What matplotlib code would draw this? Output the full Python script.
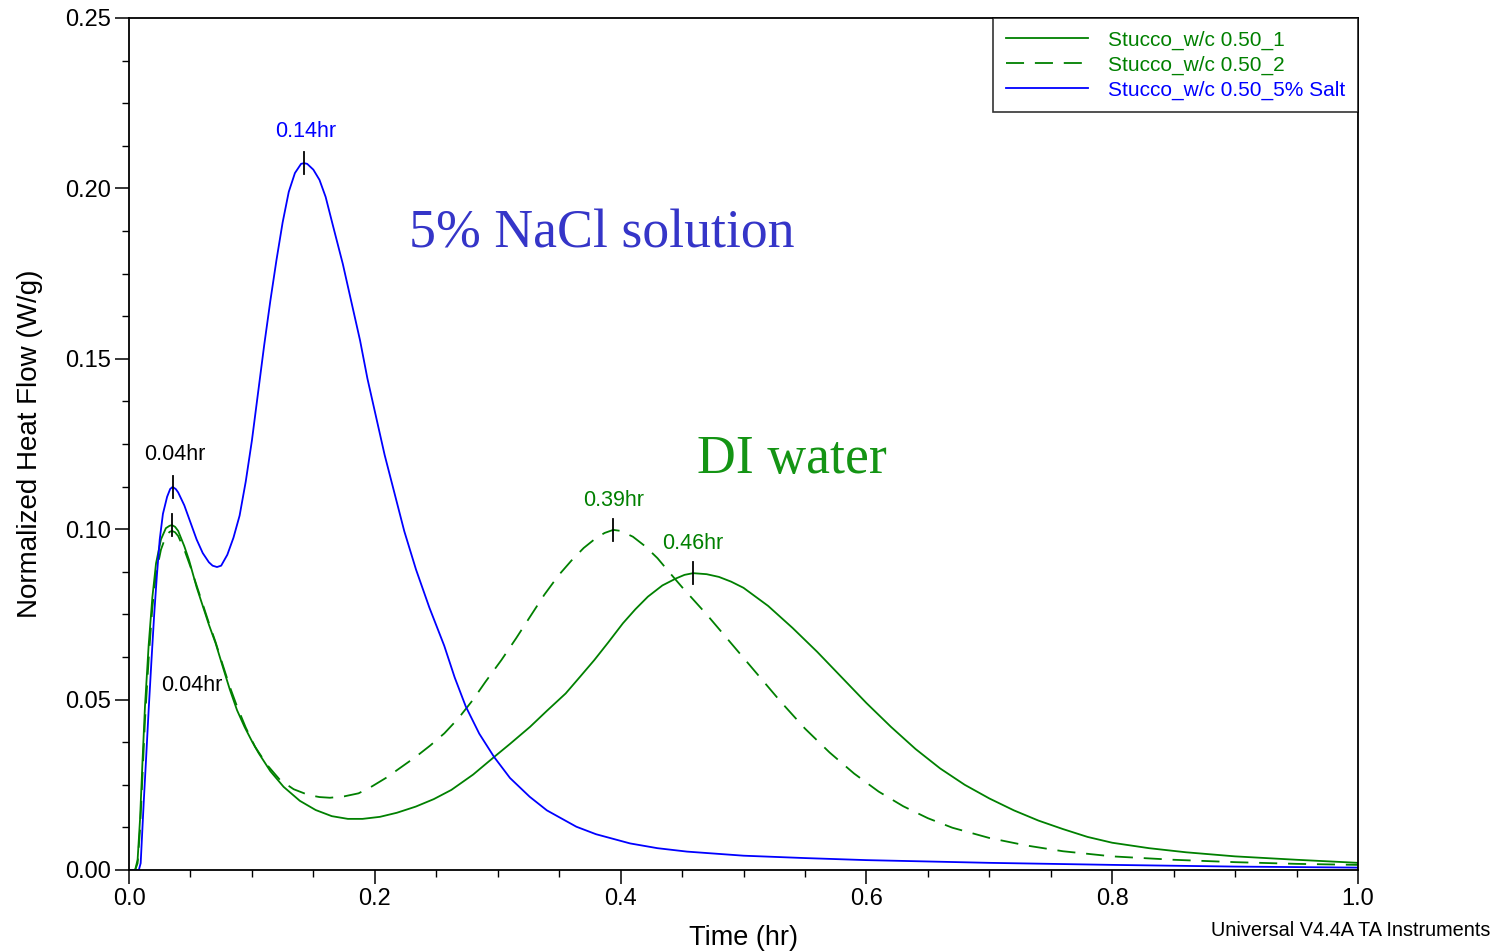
import numpy as np
import matplotlib
matplotlib.use("Agg")
import matplotlib.pyplot as plt
from matplotlib.ticker import MultipleLocator

plt.rcParams['font.family'] = ['Liberation Sans', 'DejaVu Sans']

# ---- data ----
t_s1 = [0.0, 0.005, 0.007, 0.009, 0.011, 0.013, 0.016, 0.019, 0.022, 0.026, 0.030, 0.033,
        0.035, 0.0375, 0.040, 0.045, 0.0488, 0.055, 0.060, 0.065, 0.0705, 0.076, 0.082,
        0.0879, 0.094, 0.100, 0.1055, 0.115, 0.1258, 0.139, 0.1519, 0.165, 0.1781, 0.190,
        0.2042, 0.218, 0.2333, 0.248, 0.2623, 0.280, 0.2972, 0.310, 0.3263, 0.340, 0.3553,
        0.367, 0.3786, 0.390, 0.4019, 0.412, 0.4222, 0.434, 0.4454, 0.452, 0.459, 0.470,
        0.480, 0.490, 0.500, 0.520, 0.540, 0.560, 0.580, 0.600, 0.620, 0.640, 0.660, 0.680,
        0.700, 0.720, 0.740, 0.760, 0.780, 0.800, 0.830, 0.860, 0.900, 0.950, 1.000]
hf_s1 = [0.0, 0.0, 0.003, 0.015, 0.032, 0.048, 0.066, 0.080, 0.090, 0.097, 0.1003, 0.1010,
         0.1012, 0.1007, 0.0995, 0.0950, 0.0910, 0.0830, 0.0775, 0.0720, 0.0665, 0.0600, 0.0530,
         0.0469, 0.0420, 0.0378, 0.0343, 0.0290, 0.0244, 0.0203, 0.0176, 0.0158, 0.0150, 0.0150,
         0.0156, 0.0168, 0.0186, 0.0208, 0.0235, 0.0280, 0.0332, 0.0370, 0.0420, 0.0467, 0.0518,
         0.0567, 0.0616, 0.0668, 0.0724, 0.0765, 0.0802, 0.0835, 0.0856, 0.0866, 0.0871, 0.0868,
         0.0860, 0.0846, 0.0828, 0.0775, 0.0710, 0.0640, 0.0565, 0.0490, 0.0420, 0.0355, 0.0298,
         0.0250, 0.0210, 0.0175, 0.0145, 0.0120, 0.0097, 0.0080, 0.0064, 0.0052, 0.0040, 0.0030,
         0.0021]

t_s2 = [0.0, 0.005, 0.007, 0.009, 0.011, 0.013, 0.016, 0.019, 0.022, 0.026, 0.030, 0.033,
        0.035, 0.0375, 0.040, 0.045, 0.050, 0.055, 0.060, 0.065, 0.0705, 0.076, 0.082, 0.0879,
        0.095, 0.1025, 0.112, 0.1229, 0.134, 0.1461, 0.155, 0.1635, 0.175, 0.1868, 0.198,
        0.2099, 0.220, 0.2333, 0.245, 0.2566, 0.268, 0.2798, 0.290, 0.303, 0.315, 0.3263, 0.338,
        0.3496, 0.360, 0.370, 0.380, 0.387, 0.394, 0.400, 0.410, 0.420, 0.430, 0.440, 0.450,
        0.470, 0.490, 0.510, 0.530, 0.550, 0.570, 0.590, 0.610, 0.630, 0.650, 0.670, 0.700,
        0.730, 0.760, 0.800, 0.850, 0.900, 0.950, 1.000]
hf_s2 = [0.0, 0.0, 0.002, 0.012, 0.028, 0.044, 0.062, 0.077, 0.087, 0.094, 0.0980, 0.0992,
         0.0995, 0.0991, 0.0980, 0.0940, 0.0890, 0.0835, 0.0780, 0.0725, 0.0668, 0.0605, 0.0538,
         0.0480, 0.0418, 0.0362, 0.0310, 0.0264, 0.0237, 0.0220, 0.0214, 0.0212, 0.0216, 0.0225,
         0.0246, 0.0272, 0.0298, 0.0332, 0.0365, 0.0401, 0.0445, 0.0499, 0.0552, 0.0616, 0.0680,
         0.0743, 0.0808, 0.0865, 0.0908, 0.0945, 0.0974, 0.0989, 0.0998, 0.0995, 0.0978, 0.0950,
         0.0915, 0.0872, 0.0830, 0.0750, 0.0665, 0.0580, 0.0495, 0.0415, 0.0345, 0.0283, 0.0230,
         0.0187, 0.0152, 0.0124, 0.0094, 0.0072, 0.0055, 0.0040, 0.0030, 0.0023, 0.0018, 0.0015]

t_salt = [0.0, 0.008, 0.0095, 0.012, 0.0138, 0.016, 0.0182, 0.0205, 0.0226, 0.025, 0.0276,
          0.031, 0.0335, 0.0355, 0.038, 0.040, 0.045, 0.050, 0.055, 0.060, 0.065, 0.068, 0.0716,
          0.075, 0.080, 0.085, 0.090, 0.095, 0.100, 0.105, 0.110, 0.115, 0.120, 0.125, 0.130,
          0.135, 0.140, 0.1424, 0.145, 0.150, 0.155, 0.160, 0.166, 0.174, 0.181, 0.188, 0.194,
          0.201, 0.208, 0.216, 0.224, 0.2335, 0.2444, 0.2565, 0.265, 0.274, 0.285, 0.297, 0.310,
          0.326, 0.340, 0.364, 0.380, 0.4077, 0.430, 0.454, 0.500, 0.550, 0.600, 0.700, 0.800,
          0.900, 1.000]
hf_salt = [0.0, 0.0, 0.002, 0.020, 0.032, 0.047, 0.061, 0.075, 0.086, 0.097, 0.1045,
           0.1095, 0.1118, 0.1124, 0.1118, 0.1108, 0.1070, 0.1020, 0.0970, 0.0930, 0.0903, 0.0893,
           0.0889, 0.0893, 0.0925, 0.0975, 0.1040, 0.1140, 0.1260, 0.1400, 0.1540, 0.1670, 0.1790,
           0.1900, 0.1990, 0.2045, 0.2072, 0.2074, 0.2072, 0.2055, 0.2025, 0.1975, 0.1890, 0.1778,
           0.1666, 0.1554, 0.1442, 0.1330, 0.1218, 0.1106, 0.0994, 0.0882, 0.0770, 0.0658, 0.0565,
           0.0480, 0.0400, 0.0332, 0.0270, 0.0215, 0.0175, 0.0127, 0.0105, 0.0078, 0.0064, 0.0054,
           0.0042, 0.0035, 0.0029, 0.0021, 0.0015, 0.0010, 0.0007]

series_labels = ['Stucco_w/c 0.50_1', 'Stucco_w/c 0.50_2', 'Stucco_w/c 0.50_5% Salt']
peak_labels = ['0.04hr', '0.04hr', '0.14hr', '0.39hr', '0.46hr']

GREEN = '#008000'
BLUE = '#0000ff'

fig = plt.figure(figsize=(14.95, 9.51), dpi=100)
ax = fig.add_axes([129/1495, 81/951, (1358-129)/1495, (870-18)/951])

ax.plot(t_s1, hf_s1, color=GREEN, lw=1.3, label=series_labels[0])
ax.plot(t_s2, hf_s2, color=GREEN, lw=1.3, ls=(0, (10, 6)), label=series_labels[1])
ax.plot(t_salt, hf_salt, color=BLUE, lw=1.3, label=series_labels[2])

ax.set_xlim(0, 1.0)
ax.set_ylim(0, 0.25)
ax.xaxis.set_major_locator(MultipleLocator(0.2))
ax.xaxis.set_minor_locator(MultipleLocator(0.05))
ax.yaxis.set_major_locator(MultipleLocator(0.05))
ax.yaxis.set_minor_locator(MultipleLocator(0.0125))
ax.xaxis.set_major_formatter(plt.FuncFormatter(lambda v, p: f"{v:.1f}"))
ax.yaxis.set_major_formatter(plt.FuncFormatter(lambda v, p: f"{v:.2f}"))
ax.tick_params(which='major', direction='out', length=10, width=1.1, labelsize=17, pad=3)
ax.tick_params(which='minor', direction='out', length=5, width=1.0)
for s in ax.spines.values():
    s.set_linewidth(1.3)

ax.set_xlabel('Time (hr)', fontsize=19.5, labelpad=11)
ax.set_ylabel('Normalized Heat Flow (W/g)', fontsize=20, labelpad=16)

# peak markers
t1, h1 = np.array(t_s1), np.array(hf_s1)
t2, h2 = np.array(t_s2), np.array(hf_s2)
t3, h3 = np.array(t_salt), np.array(hf_salt)
i_b1 = np.argmax(np.where(t3 < 0.06, h3, -1))
i_b2 = np.argmax(h3)
i_g1 = np.argmax(np.where(t1 < 0.1, h1, -1))
i_g2 = np.argmax(np.where(t1 > 0.2, h1, -1))
i_d2 = np.argmax(np.where(t2 > 0.2, h2, -1))
peaks = [(t3[i_b1], h3[i_b1]), (t1[i_g1], h1[i_g1]), (t3[i_b2], h3[i_b2]),
         (t2[i_d2], h2[i_d2]), (t1[i_g2], h1[i_g2])]
for px, py in peaks:
    ax.plot([px, px], [py - 0.0032, py + 0.0032], color='black', lw=1.3)

lbl_off = [(0.002, 0.0095), (0.016, -0.047), (0.001, 0.0092), (0.0005, 0.0087), (0.0, 0.0086)]
lbl_col = ['black', 'black', BLUE, GREEN, GREEN]
for (px, py), (dx, dy), txt, c in zip(peaks, lbl_off, peak_labels, lbl_col):
    ax.text(px + dx, py + dy, txt, color=c, fontsize=15.5, ha='center', va='center')

ax.text(0.3845, 0.1865, '5% NaCl solution', color='#3535c8', fontsize=38.7,
        family='Liberation Serif', ha='center', va='center')
ax.text(0.5395, 0.1205, 'DI water', color='#149414', fontsize=38.7,
        family='Liberation Serif', ha='center', va='center')

leg = ax.legend(loc='upper right', fontsize=15, handlelength=3.95, handletextpad=0.96,
                labelspacing=0.27, borderpad=0.6, borderaxespad=0, frameon=True,
                fancybox=False, labelcolor='linecolor')
leg.get_frame().set_edgecolor('black')
leg.get_frame().set_linewidth(1.2)

fig.text(1490/1495, 1 - 931/951, 'Universal V4.4A TA Instruments', fontsize=14.3,
         ha='right', va='center')

fig.savefig('out.png', dpi=100)
